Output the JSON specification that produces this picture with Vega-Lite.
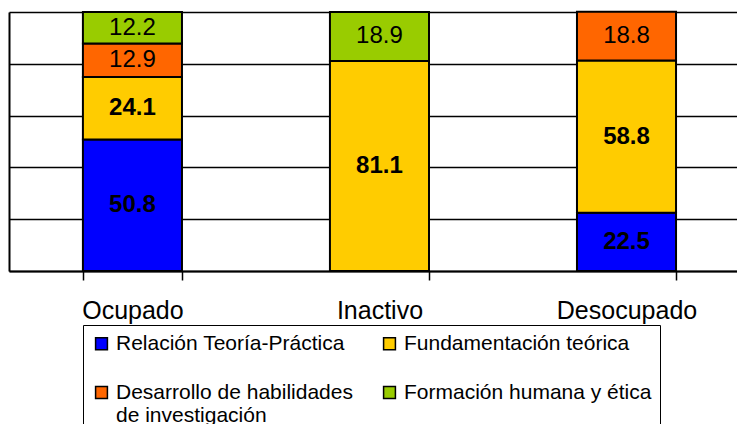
{
  "$schema": "https://vega.github.io/schema/vega-lite/v6.json",
  "width": 728,
  "height": 259,
  "autosize": {"type": "none"},
  "padding": {"left": 9, "top": 12, "right": 0, "bottom": 153},
  "config": {
    "view": {"stroke": null},
    "font": "Liberation Sans",
    "axis": {"labelFont": "Liberation Sans"},
    "legend": {"labelFont": "Liberation Sans"}
  },
  "data": {
    "values": [
      {"situacion": "Ocupado", "aspecto": "Relación Teoría-Práctica", "orden": 1, "valor": 50.8},
      {"situacion": "Ocupado", "aspecto": "Fundamentación teórica", "orden": 2, "valor": 24.1},
      {"situacion": "Ocupado", "aspecto": "Desarrollo de habilidades de investigación", "orden": 3, "valor": 12.9},
      {"situacion": "Ocupado", "aspecto": "Formación humana y ética", "orden": 4, "valor": 12.2},
      {"situacion": "Inactivo", "aspecto": "Fundamentación teórica", "orden": 2, "valor": 81.1},
      {"situacion": "Inactivo", "aspecto": "Formación humana y ética", "orden": 4, "valor": 18.9},
      {"situacion": "Desocupado", "aspecto": "Relación Teoría-Práctica", "orden": 1, "valor": 22.5},
      {"situacion": "Desocupado", "aspecto": "Fundamentación teórica", "orden": 2, "valor": 58.8},
      {"situacion": "Desocupado", "aspecto": "Desarrollo de habilidades de investigación", "orden": 3, "valor": 18.8}
    ]
  },
  "encoding": {
    "x": {
      "field": "situacion",
      "type": "nominal",
      "sort": ["Ocupado", "Inactivo", "Desocupado"],
      "scale": {"paddingInner": 0.599, "paddingOuter": 0.273, "align": 0.548},
      "axis": {
        "title": null,
        "labelAngle": 0,
        "labelFontSize": 25,
        "labelColor": "#000",
        "labelPadding": 18,
        "tickBand": "extent",
        "tickColor": "#000",
        "tickWidth": 1.5,
        "tickSize": 9,
        "domainColor": "#000",
        "domainWidth": 2,
        "grid": false
      }
    },
    "y": {
      "field": "valor",
      "type": "quantitative",
      "stack": "zero",
      "scale": {"domain": [0, 100], "nice": false},
      "axis": {
        "title": null,
        "labels": false,
        "ticks": false,
        "domainColor": "#000",
        "domainWidth": 2,
        "grid": true,
        "gridColor": "#000",
        "gridWidth": 1.5,
        "values": [0, 20, 40, 60, 80, 100]
      }
    },
    "order": {"field": "orden", "type": "quantitative"}
  },
  "layer": [
    {
      "mark": {"type": "bar", "stroke": "#000", "strokeWidth": 2, "clip": false},
      "encoding": {
        "color": {
          "field": "aspecto",
          "type": "nominal",
          "scale": {
            "domain": ["Relación Teoría-Práctica", "Fundamentación teórica", "Desarrollo de habilidades de investigación", "Formación humana y ética"],
            "range": ["#0000FF", "#FFCC00", "#FF6600", "#99CC00"]
          },
          "legend": {
            "title": null,
            "orient": "none",
            "legendX": 74,
            "legendY": 313,
            "direction": "horizontal",
            "columns": 2,
            "symbolType": "square",
            "symbolSize": 140,
            "symbolStrokeColor": "#000",
            "symbolStrokeWidth": 1.5,
            "labelFontSize": 21,
            "labelColor": "#000",
            "labelLimit": 0,
            "labelOffset": 4,
            "columnPadding": 26,
            "rowPadding": 27,
            "padding": 8,
            "strokeColor": "#000",
            "labelExpr": "datum.label == 'Desarrollo de habilidades de investigación' ? ['Desarrollo de habilidades', 'de investigación'] : datum.label"
          }
        }
      }
    },
    {
      "mark": {"type": "text", "fontSize": 24, "fontWeight": "bold", "color": "#000", "baseline": "middle"},
      "encoding": {
        "y": {"field": "valor", "type": "quantitative", "stack": "zero", "bandPosition": 0.5},
        "text": {"condition": {"test": "datum.orden <= 2", "field": "valor", "type": "quantitative", "format": ".1f"}, "value": ""}
      }
    },
    {
      "mark": {"type": "text", "fontSize": 24, "color": "#000", "baseline": "middle"},
      "encoding": {
        "y": {"field": "valor", "type": "quantitative", "stack": "zero", "bandPosition": 0.5},
        "text": {"condition": {"test": "datum.orden > 2", "field": "valor", "type": "quantitative", "format": ".1f"}, "value": ""}
      }
    }
  ]
}
